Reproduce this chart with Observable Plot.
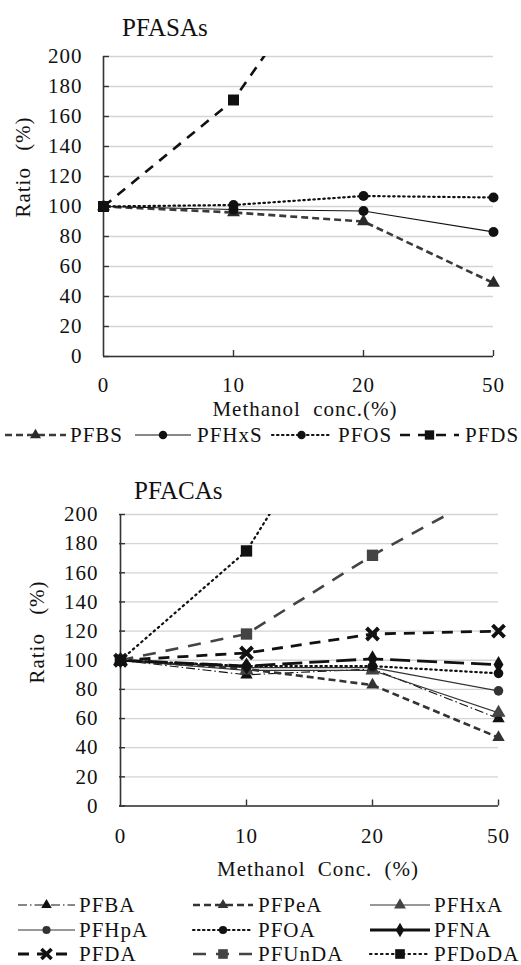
<!DOCTYPE html>
<html><head><meta charset="utf-8">
<script src="https://cdn.jsdelivr.net/npm/d3@7"></script>
<script src="https://cdn.jsdelivr.net/npm/@observablehq/plot@0.6"></script>
<style>
html,body{margin:0;padding:0;background:#fff;}
#root{position:relative;width:521px;height:965px;font-family:"Liberation Serif",serif;color:#111;overflow:hidden;}
.lbl{position:absolute;white-space:pre;transform:translate(-50%,-50%);font-size:21px;letter-spacing:1px;line-height:1;}
.ttl{position:absolute;white-space:pre;font-size:25px;transform:translate(0,-50%);line-height:1;}
svg{position:absolute;}
</style></head>
<body><div id="root"></div>
<script>
// ---- data ----
const xCats = ["0", "10", "20", "50"];
const yTicks = [0, 20, 40, 60, 80, 100, 120, 140, 160, 180, 200];

// PFASAs (top)
const PFBS  = [100, 96, 90, 49];
const PFHxS = [100, 98, 97, 83];
const PFOS  = [100, 101, 107, 106];
const PFDS  = [100, 171, 295, 300];

// PFACAs (bottom)
const PFBA   = [100, 90, 94, 60];
const PFPeA  = [100, 94, 83, 47];
const PFHxA  = [100, 93, 93, 64];
const PFHpA  = [100, 95, 95, 79];
const PFOA   = [100, 96, 96, 91];
const PFNA   = [100, 96, 101, 97];
const PFDA   = [100, 105, 118, 120];
const PFUnDA = [100, 118, 172, 219];
const PFDoDA = [100, 175, 313, 330];

// ---- styles ----
const topSeries = [
  {name: "PFBS",  v: PFBS,  stroke: "#3a3a3a", dash: "7,4",  w: 2.6, sym: "triangle", fill: "#2a2a2a", r: 4.8},
  {name: "PFHxS", v: PFHxS, stroke: "#111",    dash: null,   w: 1.2, sym: "circle",   fill: "#111",    r: 5},
  {name: "PFOS",  v: PFOS,  stroke: "#111",    dash: "1.5,3.5", w: 2.2, sym: "circle", fill: "#111",  r: 5, cap: "round"},
  {name: "PFDS",  v: PFDS,  stroke: "#111",    dash: "10,8", w: 2.6, sym: "square",   fill: "#111",    r: 6.2}
];
const botSeries = [
  {name: "PFBA",   v: PFBA,   stroke: "#111",    dash: "9,3,1.5,3", w: 1.1, sym: "triangle", fill: "#111",    r: 4.6},
  {name: "PFPeA",  v: PFPeA,  stroke: "#333",    dash: "7,4",  w: 2.6, sym: "triangle", fill: "#333",    r: 4.6},
  {name: "PFHxA",  v: PFHxA,  stroke: "#333",    dash: null,   w: 1.2, sym: "triangle", fill: "#444",    r: 5.2},
  {name: "PFHpA",  v: PFHpA,  stroke: "#333",    dash: null,   w: 1.2, sym: "circle",   fill: "#333",    r: 4.8},
  {name: "PFOA",   v: PFOA,   stroke: "#111",    dash: "1.5,3.5", w: 2.2, sym: "circle", fill: "#111",   r: 4.8, cap: "round"},
  {name: "PFNA",   v: PFNA,   stroke: "#111",    dash: "20,7", w: 2.8, sym: "diamond",  fill: "#111",    r: 5.2},
  {name: "PFDA",   v: PFDA,   stroke: "#111",    dash: "11,8", w: 2.8, sym: "times",    fill: "#111",    r: 5.5},
  {name: "PFUnDA", v: PFUnDA, stroke: "#444",    dash: "13,10", w: 2.6, sym: "square",  fill: "#444",    r: 6.4},
  {name: "PFDoDA", v: PFDoDA, stroke: "#111",    dash: "1.5,4", w: 2.2, sym: "square",  fill: "#111",    r: 6.4, cap: "round"}
];

const root = document.getElementById("root");
const FONT = "Liberation Serif";

function rows(s) { return xCats.map((x, i) => ({x, y: s.v[i]})); }

function chart(series, o) {
  const marks = [
    Plot.gridY(yTicks, {stroke: "#d4d4d4", strokeOpacity: 1, strokeWidth: 1.3}),
    Plot.axisY(yTicks, {tickSize: 0, tickPadding: 21, fontSize: 21, fill: "#111", label: null}),
    Plot.axisY(yTicks, {tickSize: -6, text: null, stroke: "#333", strokeWidth: 1.4, label: null}),
    Plot.axisX({tickSize: 0, tickPadding: o.xpad, fontSize: 21, fill: "#111", label: null}),
    Plot.axisX(xCats.slice(1), {tickSize: -6, text: null, stroke: "#333", strokeWidth: 1.4, label: null}),
    Plot.ruleX([xCats[0]], {stroke: "#333", strokeWidth: 1.6}),
    Plot.ruleY([0], {stroke: "#333", strokeWidth: 1.6})
  ];
  for (const s of series) {
    marks.push(Plot.line(rows(s), {x: "x", y: "y", stroke: s.stroke, strokeWidth: s.w,
      strokeDasharray: s.dash, strokeLinecap: s.cap || "butt", clip: true}));
  }
  for (const s of series) {
    const isX = s.sym === "times";
    marks.push(Plot.dot(rows(s).filter(d => d.y <= 200), {x: "x", y: "y", symbol: s.sym, r: s.r, fill: s.fill,
      stroke: isX ? s.fill : "none", strokeWidth: isX ? 4 : 0}));
  }
  const svg = Plot.plot({
    width: 521, height: o.height,
    marginLeft: o.ml, marginRight: o.mr, marginTop: o.mt, marginBottom: o.mb,
    x: {type: "point", domain: xCats, padding: 0},
    y: {domain: [0, 200]},
    style: {fontFamily: FONT, fontSize: "21px", letterSpacing: "1px", color: "#111", background: "transparent", overflow: "visible"},
    marks
  });
  svg.style.left = "0px"; svg.style.top = o.top + "px";
  root.appendChild(svg);
}

chart(topSeries, {top: 0, height: 400, ml: 103, mr: 28, mt: 56, mb: 44, xpad: 21});
chart(botSeries, {top: 460, height: 400, ml: 119, mr: 23, mt: 54, mb: 54.5, xpad: 22});

function addText(cls, txt, x, y, extra) {
  const d = document.createElement("div");
  d.className = cls; d.textContent = txt;
  d.style.left = x + "px"; d.style.top = y + "px";
  if (extra) Object.assign(d.style, extra);
  root.appendChild(d);
}
addText("ttl", "PFASAs", 122, 27);
addText("ttl", "PFACAs", 134, 490);
addText("lbl", "Ratio (%)", 23, 167, {transform: "translate(-50%,-50%) rotate(-90deg)", wordSpacing: "10px"});
addText("lbl", "Ratio (%)", 37, 632, {transform: "translate(-50%,-50%) rotate(-90deg)", wordSpacing: "12px"});
addText("lbl", "Methanol conc.(%)", 305, 409, {wordSpacing: "6px"});
addText("lbl", "Methanol Conc. (%)", 318, 869, {wordSpacing: "6px"});

// ---- legends ----
const symMap = {triangle: d3.symbolTriangle, circle: d3.symbolCircle, square: d3.symbolSquare,
  diamond: d3.symbolDiamond, times: d3.symbolTimes};
function legend(top, h, items) {
  const svg = d3.select(root).append("svg").attr("width", 521).attr("height", h)
    .style("left", "0px").style("top", top + "px");
  for (const it of items) {
    const s = it.s;
    svg.append("line").attr("x1", it.x0).attr("x2", it.x1).attr("y1", it.y).attr("y2", it.y)
      .attr("stroke", s.stroke).attr("stroke-width", s.w)
      .attr("stroke-dasharray", it.solid ? null : s.dash)
      .attr("stroke-linecap", s.cap || "butt");
    const r = s.r * 0.85;
    const isX = s.sym === "times";
    svg.append("path").attr("d", d3.symbol(symMap[s.sym], Math.PI * r * r)())
      .attr("transform", `translate(${(it.x0 + it.x1) / 2},${it.y})`)
      .attr("fill", s.fill)
      .attr("stroke", isX ? s.fill : "none").attr("stroke-width", isX ? 3.5 : 0);
    svg.append("text").attr("x", it.tx).attr("y", it.y).attr("dy", "0.34em")
      .attr("font-family", FONT).attr("font-size", 21).attr("letter-spacing", "1px")
      .attr("fill", "#111").text(s.name);
  }
}
legend(420, 30, [
  {s: topSeries[0], x0: 5, x1: 66, tx: 70, y: 15},
  {s: topSeries[1], x0: 135, x1: 191, tx: 197, y: 15},
  {s: topSeries[2], x0: 272, x1: 331, tx: 338, y: 15},
  {s: topSeries[3], x0: 400, x1: 459, tx: 465, y: 15}
]);
const cols = [{x0: 18, x1: 75, tx: 79}, {x0: 193, x1: 253, tx: 258}, {x0: 370, x1: 430, tx: 434}];
const rowY = [15, 40, 64];
legend(890, 75, botSeries.map((s, i) => ({s, ...cols[i % 3], y: rowY[Math.floor(i / 3)],
  solid: s.name === "PFNA"})));
</script></body></html>
